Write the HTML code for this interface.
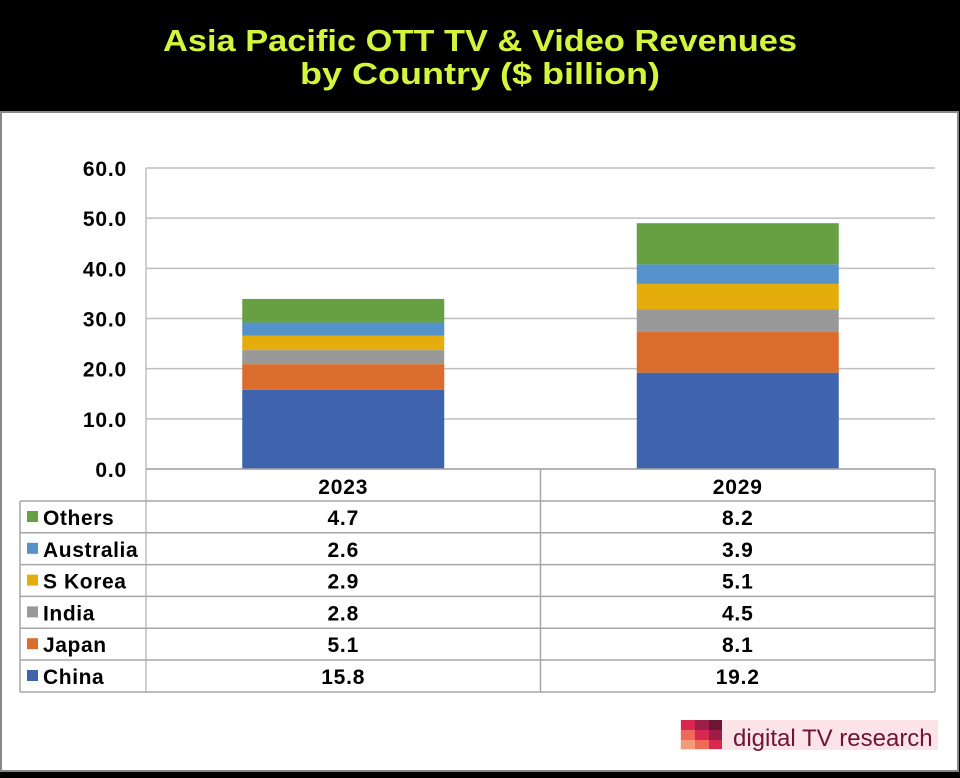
<!DOCTYPE html>
<html><head><meta charset="utf-8"><style>
body{margin:0;width:960px;height:773px;background:#000;overflow:hidden;font-family:"Liberation Sans",sans-serif}
</style></head><body>
<svg width="960" height="773" xmlns="http://www.w3.org/2000/svg">
<rect x="0" y="0" width="960" height="112" fill="#000"/>
<text x="163" y="51" textLength="634" lengthAdjust="spacingAndGlyphs" font-family="Liberation Sans, sans-serif" font-weight="bold" font-size="31" fill="#d4f53c">Asia Pacific OTT TV &amp; Video Revenues</text>
<text x="300" y="84" textLength="360" lengthAdjust="spacingAndGlyphs" font-family="Liberation Sans, sans-serif" font-weight="bold" font-size="31" fill="#d4f53c">by Country ($ billion)</text>
<rect x="1" y="112" width="957" height="659" fill="#fff" stroke="#888" stroke-width="2"/>
<g id="grid"></g><g id="bars"></g><g id="table"></g>
<g>
<rect x="680" y="720" width="258" height="30" fill="#fbe3e8"/>
<rect x="681" y="720" width="14" height="10" fill="#d8284f"/><rect x="695" y="720" width="14" height="10" fill="#9c1d45"/><rect x="709" y="720" width="13" height="10" fill="#6e1434"/>
<rect x="681" y="730" width="14" height="10" fill="#f06a5a"/><rect x="695" y="730" width="14" height="10" fill="#d8284f"/><rect x="709" y="730" width="13" height="10" fill="#9c1d45"/>
<rect x="681" y="740" width="14" height="9" fill="#f59a7a"/><rect x="695" y="740" width="14" height="9" fill="#f06a5a"/><rect x="709" y="740" width="13" height="9" fill="#d8284f"/>
<text x="733" y="746" font-family="Liberation Sans, sans-serif" font-size="24" fill="#6e1434">digital TV research</text>
</g>
</svg>
<script>
const years=["2023","2029"];
const series=["China","Japan","India","S Korea","Australia","Others"];
const colors=["#3d64ad","#da6d2b","#999999","#e4ad0b","#5591cb","#67a043"];
const v2023=[15.8,5.1,2.8,2.9,2.6,4.7];
const v2029=[19.2,8.1,4.5,5.1,3.9,8.2];
const ticks=[0,10,20,30,40,50,60];
const values=[v2023,v2029];
const NS="http://www.w3.org/2000/svg";
const y0=469,yTop=168,yMax=60,plotL=146,plotR=935;
const colW=(plotR-plotL)/years.length,barW=202;
const FS=21;
function y(v){return y0-(v/yMax)*(y0-yTop);}
function mk(t,a,p,txt){const e=document.createElementNS(NS,t);for(const k in a)e.setAttribute(k,a[k]);if(txt!==undefined)e.textContent=txt;p.appendChild(e);return e;}
const grid=document.getElementById('grid'),bars=document.getElementById('bars'),tbl=document.getElementById('table');
ticks.forEach(t=>{
 const l=mk('line',{x1:plotL,x2:plotR,y1:y(t),y2:y(t),stroke:'#bfbfbf','stroke-width':1.5},grid);
 
 
 const tx=mk('text',{x:127,y:y(t)+8,'text-anchor':'end','font-size':FS,'font-weight':'bold','letter-spacing':0.8,fill:'#000','font-family':'Liberation Sans, sans-serif'},grid,t.toFixed(1));
 
 
});
const ax=mk('line',{x1:plotL,x2:plotL,y1:yTop,y2:692,stroke:'#bfbfbf','stroke-width':1.5},grid);


years.forEach((yr,i)=>{
 const cx=plotL+colW*(i+0.5);let acc=0;
 series.forEach((s,j)=>{
  const v=values[i][j];
  const r=mk('rect',{x:cx-barW/2,y:y(acc+v),width:barW,height:y(acc)-y(acc+v),fill:colors[j]},bars);
  
  
  acc+=v;
 });
});
const tL=20,rowH=31.8,hdrBottom=501;
const lineA={stroke:'#a6a6a6','stroke-width':1.5};
mk('line',Object.assign({x1:plotL,x2:plotR,y1:y0,y2:y0},lineA),tbl);
mk('line',Object.assign({x1:plotR,x2:plotR,y1:y0,y2:692},lineA),tbl);
mk('line',Object.assign({x1:plotL+colW,x2:plotL+colW,y1:y0,y2:692},lineA),tbl);
mk('line',Object.assign({x1:tL,x2:tL,y1:hdrBottom,y2:692},lineA),tbl);
years.forEach((yr,i)=>{
 const t=mk('text',{x:plotL+colW*(i+0.5),y:494,'text-anchor':'middle','font-size':FS,'font-weight':'bold','letter-spacing':0.8,'font-family':'Liberation Sans, sans-serif'},tbl,yr);
 
 
});
const order=[5,4,3,2,1,0];
order.forEach((j,r)=>{
 const top=hdrBottom+r*rowH;
 mk('line',Object.assign({x1:tL,x2:plotR,y1:top,y2:top},lineA),tbl);
 const sw=mk('rect',{x:27,y:top+10,width:11,height:11,fill:colors[j]},tbl);
 
 
 const lb=mk('text',{x:43,y:top+24,'font-size':FS,'font-weight':'bold','letter-spacing':0.6,'font-family':'Liberation Sans, sans-serif'},tbl,series[j]);
 
 
 years.forEach((yr,i)=>{
  const c=mk('text',{x:plotL+colW*(i+0.5),y:top+24,'text-anchor':'middle','font-size':FS,'font-weight':'bold','letter-spacing':0.8,'font-family':'Liberation Sans, sans-serif'},tbl,values[i][j].toFixed(1));
  
  
 });
});
mk('line',Object.assign({x1:tL,x2:plotR,y1:692,y2:692},lineA),tbl);
</script>
</body></html>
